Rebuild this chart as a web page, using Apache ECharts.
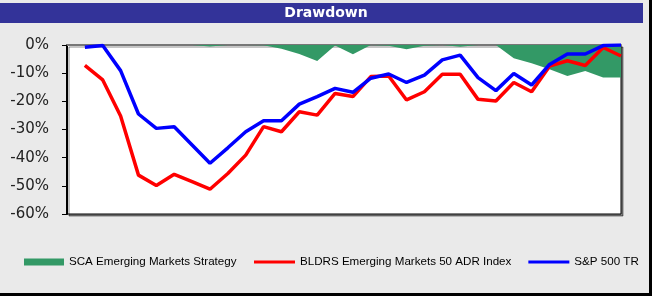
<!DOCTYPE html>
<html>
<head>
<meta charset="utf-8">
<script src="https://cdn.jsdelivr.net/npm/echarts@6/dist/echarts.min.js"></script>
<style>
  html, body { margin: 0; padding: 0; background: #eaeaea; }
  #main { width: 652px; height: 296px; }
</style>
</head>
<body>
<div id="main"></div>
<script>
// monthly drawdown, percent (first slot on the axis is left empty)
var periods = ['', '1', '2', '3', '4', '5', '6', '7', '8', '9', '10', '11', '12', '13', '14', '15',
  '16', '17', '18', '19', '20', '21', '22', '23', '24', '25', '26', '27', '28', '29', '30', '31'];

var sca = [0, 0, 0, 0, 0, 0, 0, -0.5, 0, 0, -0.1, -1.3, -3.2, -5.7, -0.2, -3.3,
  0, -0.3, -1.5, -0.3, 0, -0.6, 0, 0, -4.7, -6.5, -8.6, -11, -9.2, -11.5, -11.5];

var bldrs = [-7.2, -12.4, -25.2, -46.2, -49.9, -45.9, -48.5, -51.2, -45.6, -39.1, -29, -30.8,
  -23.7, -24.9, -17.2, -18.3, -11.2, -11, -19.5, -16.6, -10.4, -10.4, -19.3, -19.9, -13.3,
  -16.6, -7.5, -5.6, -7.3, -0.9, -3.9];

var sp500 = [-0.8, -0.2, -9.1, -24.5, -29.6, -29, -35.5, -42, -36.5, -30.8, -26.9, -26.9,
  -21, -18.3, -15.4, -16.8, -11.8, -10.3, -13.3, -10.7, -5.3, -3.6, -11.6, -16.2, -10.1,
  -14.2, -6.9, -3.2, -3.2, -0.2, 0];

var names = ['SCA Emerging Markets Strategy', 'BLDRS Emerging Markets 50 ADR Index', 'S&P 500 TR'];

var legendText = { fontFamily: 'Liberation Sans', fontSize: 11.6, color: '#000' };

var chart = echarts.init(document.getElementById('main'));

chart.setOption({
  backgroundColor: '#eaeaea',
  animation: false,
  graphic: [
    { type: 'rect', shape: { x: 0, y: 3, width: 643, height: 20 }, style: { fill: '#333399' } },
    { type: 'text', x: 326, y: 13, style: { text: 'Drawdown', fill: '#fff', font: 'bold 14px "DejaVu Sans"', align: 'center', verticalAlign: 'middle' } },
    { type: 'rect', shape: { x: 649, y: 0, width: 3, height: 296 }, style: { fill: '#000' } },
    { type: 'rect', shape: { x: 0, y: 293, width: 652, height: 3 }, style: { fill: '#000' } }
  ],
  legend: [
    {
      left: 24, top: 256, width: 300, padding: 0,
      itemWidth: 40, itemHeight: 7,
      textStyle: legendText,
      data: [{ name: names[0], icon: 'rect' }]
    },
    {
      left: 254, top: 256, width: 400, padding: 0,
      itemWidth: 41, itemHeight: 3, itemGap: 17,
      textStyle: legendText,
      data: [{ name: names[1], icon: 'rect' }, { name: names[2], icon: 'rect' }]
    }
  ],
  grid: {
    left: 67, right: 31, top: 45, bottom: 82,
    show: true,
    backgroundColor: '#fff',
    borderColor: '#000',
    borderWidth: 1,
    shadowColor: 'rgba(0,0,0,0.45)',
    shadowOffsetX: 2,
    shadowOffsetY: 2
  },
  xAxis: {
    type: 'category',
    data: periods,
    boundaryGap: false,
    axisLine: { lineStyle: { color: '#777', width: 2 } },
    axisTick: { show: false },
    axisLabel: { show: false },
    splitLine: { show: false }
  },
  yAxis: {
    type: 'value',
    min: -60,
    max: 0,
    interval: 10,
    axisLine: { show: true, lineStyle: { color: '#000', width: 2 } },
    axisTick: { show: true, length: 5, lineStyle: { color: '#000' } },
    axisLabel: { formatter: '{value}%', fontFamily: 'DejaVu Sans', fontSize: 15, color: '#222', margin: 18 },
    splitLine: { show: false }
  },
  series: [
    {
      name: names[0], type: 'line', data: [null].concat(sca),
      symbol: 'none', color: '#339966',
      lineStyle: { width: 0 },
      areaStyle: { color: '#339966', opacity: 1, origin: 'end' }
    },
    {
      name: names[1], type: 'line', data: [null].concat(bldrs),
      symbol: 'none', color: '#ff0000',
      lineStyle: { width: 3.5, color: '#ff0000' }
    },
    {
      name: names[2], type: 'line', data: [null].concat(sp500),
      symbol: 'none', color: '#0000ff',
      lineStyle: { width: 3.5, color: '#0000ff' }
    }
  ]
});
</script>
</body>
</html>
